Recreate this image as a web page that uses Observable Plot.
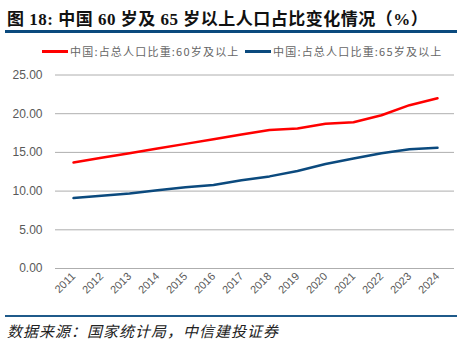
<!DOCTYPE html>
<html>
<head>
<meta charset="utf-8">
<script src="https://cdn.jsdelivr.net/npm/d3@7"></script>
<script src="https://cdn.jsdelivr.net/npm/@observablehq/plot@0.6"></script>
<style>
  html, body { margin: 0; padding: 0; background: #fff; }
  #wrap { position: relative; width: 474px; height: 346px; overflow: hidden; }
  #title { position: absolute; left: 7px; top: 5px; font-family: "Liberation Serif", "Noto Sans CJK SC", serif; font-weight: bold; font-size: 17px; letter-spacing: 0.5px; color: #111; white-space: nowrap; }
  #tline { position: absolute; left: 5px; top: 30px; width: 452px; height: 3px; background: #0b4a7e; }
  #legend { position: absolute; top: 43px; left: 0; width: 474px; font-family: "Noto Sans CJK SC", sans-serif; font-size: 11px; letter-spacing: 1.2px; color: #666; white-space: nowrap; }
  .li { position: absolute; top: 0; display: flex; align-items: center; }
  .sw { width: 26px; height: 3px; margin-right: 2px; }
  #chart { position: absolute; left: 0; top: 60px; }
  #bline { position: absolute; left: 5px; top: 315px; width: 452px; height: 2px; background: #1f5a8a; }
  #caption { position: absolute; left: 7px; top: 320px; font-family: "Noto Sans CJK SC", sans-serif; font-style: italic; font-size: 15px; letter-spacing: 1px; color: #222; white-space: nowrap; }
</style>
</head>
<body>
<div id="wrap">
  <div id="title">图 18: 中国 60 岁及 65 岁以上人口占比变化情况（%）</div>
  <div id="tline"></div>
  <div id="legend"></div>
  <div id="chart"></div>
  <div id="bline"></div>
  <div id="caption">数据来源：国家统计局，中信建投证券</div>
</div>
<script>
const years = ["2011","2012","2013","2014","2015","2016","2017","2018","2019","2020","2021","2022","2023","2024"];
const share60 = [13.7, 14.3, 14.9, 15.5, 16.1, 16.7, 17.3, 17.9, 18.1, 18.7, 18.9, 19.8, 21.1, 22.0];
const share65 = [9.1, 9.4, 9.7, 10.1, 10.5, 10.8, 11.4, 11.9, 12.6, 13.5, 14.2, 14.9, 15.4, 15.6];
const seriesNames = ["中国:占总人口比重:60岁及以上", "中国:占总人口比重:65岁及以上"];
const seriesColors = ["#ff0000", "#0b4a7e"];
const yTicks = [0, 5, 10, 15, 20, 25];

const rows = [];
years.forEach((y, i) => {
  rows.push({year: y, value: share60[i], series: seriesNames[0]});
  rows.push({year: y, value: share65[i], series: seriesNames[1]});
});

const legend = document.getElementById("legend");
const lpos = [42, 245];
seriesNames.forEach((n, i) => {
  const d = document.createElement("div");
  d.className = "li";
  d.style.left = lpos[i] + "px";
  d.innerHTML = `<span class="sw" style="background:${seriesColors[i]}"></span><span>${n}</span>`;
  legend.appendChild(d);
});

const chart = Plot.plot({
  width: 474,
  height: 250,
  marginTop: 14.5,
  marginBottom: 42,
  marginLeft: 55,
  marginRight: 20,
  style: {fontFamily: "Liberation Sans, Arial, sans-serif", fontSize: "12px", color: "#595959", background: "transparent"},
  x: {type: "point", domain: years, padding: 0.5, label: null, tickSize: 0, tickPadding: 6, tickRotate: -45},
  y: {domain: [0, 25], ticks: yTicks, tickFormat: d3.format(".2f"), label: null, tickSize: 0, tickPadding: 13},
  color: {domain: seriesNames, range: seriesColors},
  marks: [
    Plot.gridY(yTicks, {stroke: "#999", strokeOpacity: 1, strokeWidth: 0.8}),
    Plot.line(rows, {x: "year", y: "value", z: "series", stroke: "series", strokeWidth: 2.5, curve: "linear"})
  ]
});
chart.querySelectorAll("g[aria-label='x-axis tick label'] text").forEach(t => t.style.fontSize = "11px");
document.getElementById("chart").appendChild(chart);
</script>
</body>
</html>
